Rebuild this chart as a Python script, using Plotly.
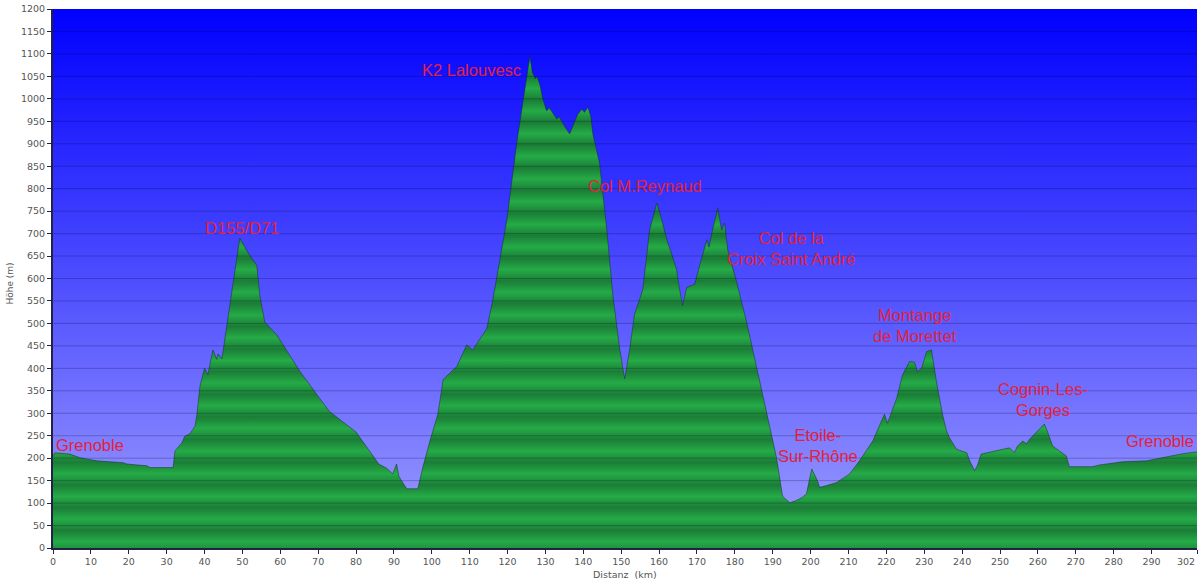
import plotly.graph_objects as go

# ---- data ----
dist_km = [0, 0.5, 4.5, 7.1, 11.6, 18.5, 19.5, 24.8, 25.6, 31.7, 32.2, 34, 34.8, 36.1, 37.5, 38,
           38.8, 40, 40.9, 42.2, 43.2, 43.6, 44.6, 46.2, 48, 49.3, 51.5, 53.8, 54.6, 55.9, 59.1,
           60.7, 65.2, 70.4, 73, 80, 86, 88, 89.7, 90.7, 91.3, 92, 93.4, 96.3, 97.6, 99.5, 101.6,
           103, 106.6, 109.2, 110.8, 114.5, 116, 119.8, 122.4, 124, 125.9, 126.5, 127.3, 127.8,
           128.5, 129.3, 130.3, 131, 132, 133, 133.6, 134.6, 135.3, 136.4, 137.5, 138.5, 139.6,
           140.3, 141.2, 142, 142.5, 144.3, 146.2, 147.8, 149.6, 150.9, 152.2, 153.5, 155.7,
           157.5, 158.5, 159.4, 160.2, 161, 162.3, 163.5, 164.6, 165.4, 166.2, 167.3, 169.4,
           170.7, 172.6, 173.2, 174.1, 175.5, 176.5, 177.3, 178.1, 180.5, 183.1, 185.8, 188.4,
           191, 192.6, 194.5, 196, 197.9, 198.9, 200.3, 201.8, 202.4, 204.2, 206.9, 210.3, 212.9,
           216.4, 219.5, 220.3, 222.7, 224.3, 226.1, 227.4, 228.2, 229.3, 230.6, 231.9, 233.2,
           234.8, 235.9, 236.7, 238.5, 241.2, 242, 243.3, 244, 245, 252.5, 253.8, 254.6, 256, 257,
           257.8, 260.4, 261.7, 262.5, 263.9, 265.7, 267.5, 268.3, 274.4, 276.3, 281.5, 282.3,
           288.7, 294, 298.2, 302]
elev_m = [205, 212, 209, 201, 194, 190, 187, 183, 179, 179, 216, 234, 249, 254, 271, 298,
          360, 400, 386, 441, 420, 432, 421, 510, 620, 690, 657, 629, 562, 503, 474,
          452, 393, 333, 304, 258, 187, 178, 165, 187, 160, 150, 132, 132, 179, 238, 298,
          375, 404, 452, 441, 488, 547, 730, 900, 990, 1094, 1060, 1045, 1050,
          1032, 1000, 973, 980, 966, 955, 960, 944, 935, 922, 945, 965, 977,
          970, 982, 960, 922, 856, 708, 562, 443, 377, 440, 520, 575,
          708, 740, 768, 746, 720, 679, 650, 620, 576, 540, 580, 587,
          629, 686, 670, 708, 757, 708, 723, 664, 591, 503, 400, 304,
          201, 115, 101, 105, 113, 121, 176, 150, 135, 139, 146, 165, 194,
          238, 298, 278, 333, 386, 415, 414, 393, 400, 437, 441, 371,
          298, 260, 245, 220, 212, 194, 172, 183, 209, 223, 212, 227, 238, 232,
          242, 265, 276, 260, 227, 216, 205, 181, 181, 185, 190, 192,
          194, 203, 210, 214]

y_ticks = list(range(0, 1201, 50))
x_ticks = list(range(0, 291, 10)) + [302]

label_texts = ["Grenoble", "D155/D71", "K2 Lalouvesc", "Col M.Reynaud",
               "Col de la<br>Croix Saint André", "Etoile-<br>Sur-Rhône",
               "Montange<br>de Morettet", "Cognin-Les-<br>Gorges", "Grenoble"]
label_km = [9.8, 49.9, 110.6, 156.2, 194.8, 202.0, 227.6, 261.4, 292.3]
label_m = [229, 712, 1065, 805, 667, 229, 495, 330, 238]

# ---- styling ----
n_bands = 24
dark_g, light_g = "#1B7D37", "#25AB47"
band_scale = []
for k in range(n_bands):
    band_scale.append([k / n_bands, dark_g])
    band_scale.append([(k + 0.5) / n_bands, light_g])
band_scale.append([1.0, dark_g])

fig = go.Figure()

# sky gradient
fig.add_trace(go.Scatter(
    x=[0, 302], y=[1200, 1200], mode="lines", line=dict(width=0),
    fill="tozeroy",
    fillgradient=dict(type="vertical", start=0, stop=1200,
                      colorscale=[[0, "#A0A0FF"], [0.5, "#4E4EFF"], [1, "#0000FF"]]),
    hoverinfo="skip", showlegend=False))

# elevation profile
fig.add_trace(go.Scatter(
    x=dist_km, y=elev_m, mode="lines",
    line=dict(color="rgba(20,45,25,0.6)", width=0.8),
    fill="tozeroy",
    fillgradient=dict(type="vertical", start=0, stop=1200, colorscale=band_scale),
    hoverinfo="skip", showlegend=False))

# gridlines above the fill
for yv in y_ticks[1:-1]:
    fig.add_shape(type="line", xref="paper", x0=0, x1=1, yref="y", y0=yv, y1=yv,
                  line=dict(color="rgba(0,0,30,0.24)", width=1), layer="above")

for t, xk, ym in zip(label_texts, label_km, label_m):
    fig.add_annotation(x=xk, y=ym, xref="x", yref="y", text=t, showarrow=False,
                       font=dict(family="Liberation Sans, Arial", size=16.5, color="#E4213B"),
                       align="center")

fig.add_annotation(text="Höhe (m)", xref="paper", yref="paper", x=-0.044, y=0.49,
                   textangle=-90, showarrow=False,
                   font=dict(family="DejaVu Sans", size=9, color="#555555"))
fig.add_annotation(text="Distanz&nbsp;&nbsp;(km)", xref="paper", yref="paper", x=0.5, y=-0.05,
                   showarrow=False, yanchor="middle",
                   font=dict(family="DejaVu Sans", size=9.5, color="#555555"))

axis_font = dict(family="DejaVu Sans", size=9.5, color="#555555")
# last tick label (302) aligned to the right edge
fig.add_annotation(text=str(x_ticks[-1]), xref="paper", yref="paper", x=1.0, y=-0.012,
                   xanchor="right", yanchor="top", showarrow=False, font=axis_font)

fig.update_layout(
    width=1200, height=583,
    margin=dict(l=53, r=3, t=4, b=35),
    paper_bgcolor="white", plot_bgcolor="#A0A0FF",
    xaxis=dict(range=[0, 302], tickvals=x_ticks,
               ticktext=[str(v) for v in x_ticks[:-1]] + [""],
               showgrid=False, zeroline=False, ticks="outside", ticklen=4,
               tickcolor="#222244", showline=True, linecolor="#222244", linewidth=2,
               tickfont=axis_font, ticklabeloverflow="allow"),
    yaxis=dict(range=[0, 1200], tickvals=y_ticks, showgrid=False, zeroline=False,
               ticks="outside", ticklen=4, tickcolor="#222244", showline=True,
               linecolor="#222244", linewidth=2, tickfont=axis_font,
               ticklabeloverflow="allow"),
)

fig.write_html(
    "out.html",
    config={"displayModeBar": False},
    post_script="document.body.style.margin='0';document.body.style.padding='0';"
                "document.documentElement.style.overflow='hidden';",
)
